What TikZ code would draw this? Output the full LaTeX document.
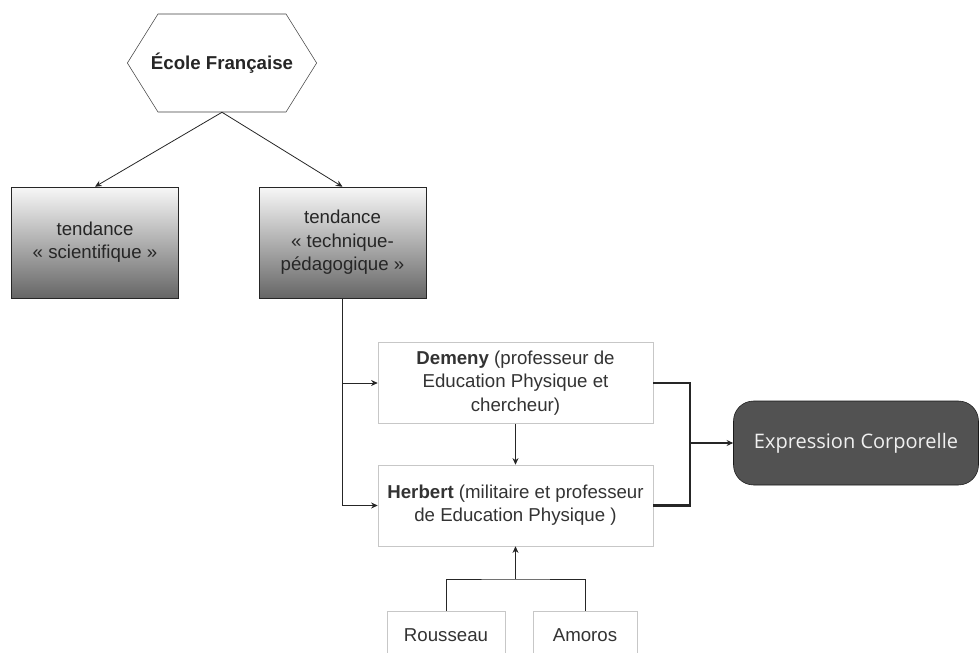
\documentclass[tikz,border=0pt]{standalone}
\usepackage{fontspec}
\setmainfont{Liberation Sans}
\newfontfamily\banner{Open Sans}
\usetikzlibrary{shapes.symbols,positioning,arrows.meta}

\begin{document}
\begin{tikzpicture}[
	% one unit is one pixel of the reference
	x=0.75pt, y=-0.75pt, >={Stealth[length=5pt,width=4.5pt]},
	font=\fontsize{14}{17.5}\selectfont,
	wire/.style={semithick, draw=black!85},
	schoolshape/.style={signal, signal to=west and east, signal pointer angle=116,
		draw=black!75, fill=white, minimum height=98*0.75pt,
		inner xsep=-5.3pt, inner ysep=0pt, font=\fontsize{14}{17.5}\selectfont\bfseries, text=black!85},
	trendbox/.style={draw=black!85, top color=black!3, bottom color=black!60,
		minimum width=167*0.75pt, minimum height=111*0.75pt, inner sep=0pt,
		align=center, text=black!85},
	personbox/.style={draw=black!22, fill=white, minimum width=275*0.75pt,
		minimum height=81*0.75pt, inner sep=0pt, align=center, text=black!80},
	namebox/.style={draw=black!22, fill=white, minimum height=48*0.75pt,
		inner sep=0pt, text=black!80},
	resultbox/.style={draw=black!90, fill=black!68, rounded corners=15pt,
		minimum width=245*0.75pt, minimum height=84*0.75pt, inner sep=0pt,
		font=\banner\fontsize{15}{17}\selectfont, text=black!6}
	]
	\useasboundingbox (0,0) rectangle (979,653);
	\clip (0,0) rectangle (979,653);
	% top level
	\node[schoolshape] (school) at (222,63) {École Française};
	\node[trendbox] (scientific) at (95,242.5) {tendance\\« scientifique »};
	\node[trendbox] (technical) at (342.5,242.5) {tendance\\« technique-\\pédagogique »};
	\draw[wire, ->] (school.south) -- (scientific.north);
	\draw[wire, ->] (school.south) -- (technical.north);
	% the two authors
	\node[personbox] (demeny) at (515.5,383) {\textbf{Demeny} (professeur de\\Education Physique et\\chercheur)};
	\node[personbox] (herbert) at (515.5,505.5) {\textbf{Herbert} (militaire et professeur\\de Education Physique )};
	\draw[wire, ->] (technical.south) |- (demeny.west);
	\draw[wire, ->] (technical.south) |- (herbert.west);
	\draw[wire, ->] (demeny) -- (herbert);
	% result
	\node[resultbox] (expression) at (856,443) {Expression Corporelle};
	\coordinate (joint) at (690,443);
	\draw[wire, line width=1.8pt] (demeny.east) -| (joint) |- (herbert.east);
	\draw[wire, line width=1.8pt, ->] (joint) -- (expression.west);
	% sources, cut by the lower edge
	\node[namebox, minimum width=118*0.75pt] (rousseau) at (446,635) {Rousseau};
	\node[namebox, minimum width=104*0.75pt] (amoros) at (585,635) {Amoros};
	\coordinate (merge) at (515.5,579);
	\draw[wire] (rousseau.north) |- (merge) -| (amoros.north);
	\draw[wire, ->] (merge) -- (herbert.south);
\end{tikzpicture}
\end{document}
